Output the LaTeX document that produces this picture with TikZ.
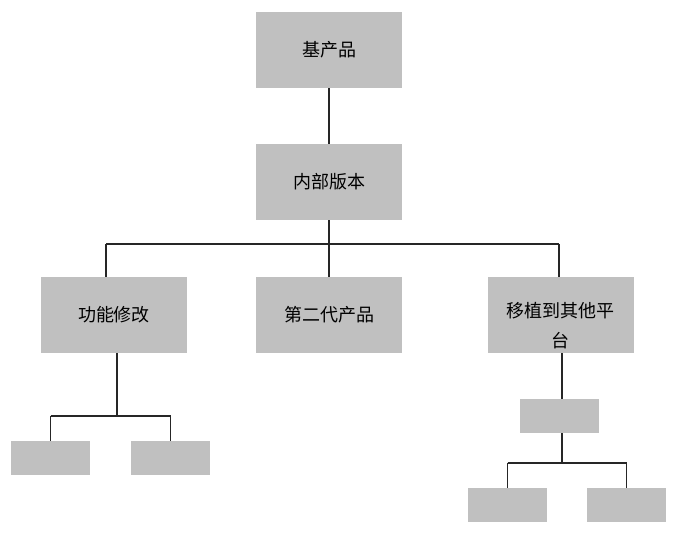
\documentclass[tikz,border=0pt]{standalone}
\usepackage{fontspec}
\newfontfamily\cjk{Noto Sans CJK SC}
\usepackage{tikz}
\usetikzlibrary{calc}

\definecolor{boxgray}{HTML}{C0C0C0}
\tikzset{
  bigbox/.style={fill=boxgray, minimum width=109.5pt, minimum height=57pt, inner sep=0pt, font=\cjk\fontsize{13.5}{22}\selectfont},
  smallbox/.style={fill=boxgray, minimum width=59.25pt, minimum height=25.5pt, inner sep=0pt},
  link/.style={draw=black!85, line width=0.8pt}
}

\begin{document}
\begin{tikzpicture}[x=0.75pt, y=-0.75pt]
    \useasboundingbox[fill=white] (0,0) rectangle (676,534);

    % Draw the main boxes
    \node[bigbox] (base) at (329,50) {基产品};
    \node[bigbox] (inner) at (329,182) {内部版本};
    \node[bigbox] (func) at (114,315) {功能修改};
    \node[bigbox] (second) at (329,315) {第二代产品};
    \node[bigbox] (port) at (561,315) {};
    \node[font=\cjk\fontsize{13.5}{22.5}\selectfont, align=center] (porttext) at (560,326) {移植到其他平\\台};

    % Draw the small boxes
    \foreach \name/\x/\y in {funcA/50.5/458, funcB/170.5/458, portsub/559.5/416, portA/507.5/505, portB/626.5/505} {
        \node[smallbox] (\name) at (\x,\y) {};
    }

    % Junction points
    \coordinate (busL) at (106,244);
    \coordinate (busR) at (559,244);
    \coordinate (fjoin) at (117,416);
    \coordinate (pjoin) at (562,463);

    % Draw the connectors
    \draw[link] (base) -- (inner);
    \draw[link] (inner.south) -- (inner.south |- busL);
    \draw[link] (busL) -- (busR);
    \draw[link] (busL) -- (busL |- func.north);
    \draw[link] (second.north |- busL) -- (second.north);
    \draw[link] (busR) -- (busR |- port.north);

    \draw[link] (fjoin |- func.south) -- (fjoin);
    \draw[link] (fjoin -| funcA) -- (fjoin -| funcB);
    \draw[link] (fjoin -| funcA) -- (funcA.north);
    \draw[link] (fjoin -| funcB) -- (funcB.north);

    \draw[link] (pjoin |- port.south) -- (pjoin |- portsub.north);
    \draw[link] (pjoin |- portsub.south) -- (pjoin);
    \draw[link] (pjoin -| portA) -- (pjoin -| portB);
    \draw[link] (pjoin -| portA) -- (portA.north);
    \draw[link] (pjoin -| portB) -- (portB.north);
\end{tikzpicture}
\end{document}
